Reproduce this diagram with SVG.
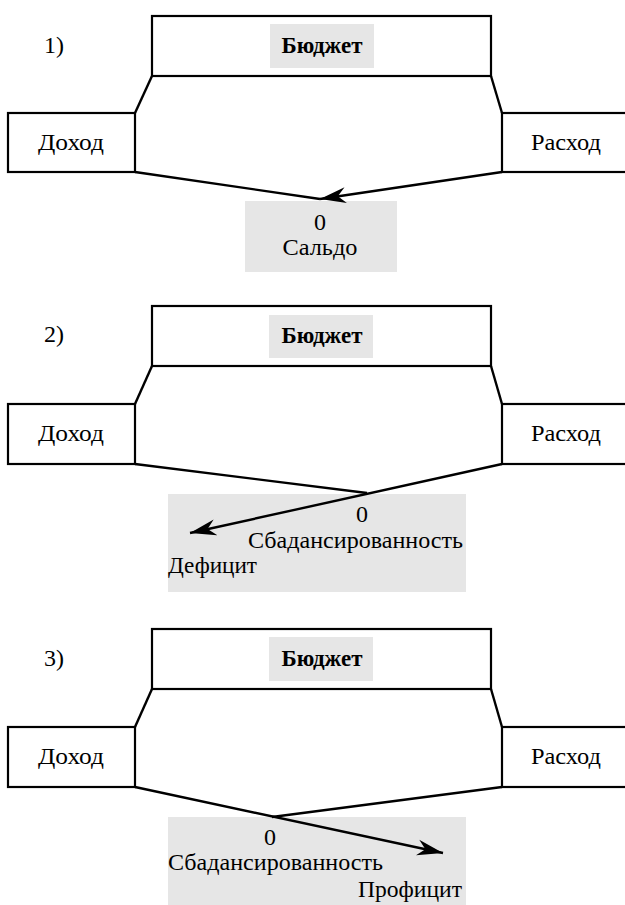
<svg xmlns="http://www.w3.org/2000/svg" width="625" height="905" viewBox="0 0 625 905">
<style>
.box{fill:#fff;stroke:#000;stroke-width:2.2}
.lbl{fill:#e6e6e6;stroke:none}
.ln{fill:none;stroke:#000;stroke-width:2.4}
.t{font-family:"Liberation Serif","Times New Roman","DejaVu Serif",serif;font-size:24px;fill:#000}
.b{font-weight:bold;font-size:23px}
.m{text-anchor:middle}
</style>
<defs>
<marker id="ah" markerUnits="userSpaceOnUse" markerWidth="30" markerHeight="20" refX="26" refY="10" orient="auto" viewBox="0 0 30 20">
<path d="M0,2 L26,10 L0,18 L8,10 z" fill="#000"/>
</marker>
</defs>
<rect width="625" height="905" fill="#fff"/>

<!-- Panel 1 -->
<g id="p1">
<text class="t" x="44" y="53">1)</text>
<g id="budget1"><rect class="box" x="152" y="16" width="339" height="60"/><rect class="lbl" x="270" y="24" width="104" height="44"/><text class="t b m" x="322" y="53" textLength="81" lengthAdjust="spacingAndGlyphs">Бюджет</text></g>
<g id="income1"><rect class="box" x="8" y="113" width="127" height="59"/><text class="t m" x="71" y="150" textLength="66" lengthAdjust="spacingAndGlyphs">Доход</text></g>
<g id="expense1"><rect class="box" x="502" y="113" width="130" height="59"/><text class="t m" x="566" y="150" textLength="70" lengthAdjust="spacingAndGlyphs">Расход</text></g>
<g id="balance1"><rect class="lbl" x="245" y="201" width="152" height="71"/><text class="t m" x="320" y="230">0</text><text class="t m" x="320" y="255" textLength="75" lengthAdjust="spacingAndGlyphs">Сальдо</text></g>
<g id="conn1">
<line class="ln" x1="152" y1="76" x2="135" y2="113"/>
<line class="ln" x1="491" y1="76" x2="502" y2="113"/>
<line class="ln" x1="135" y1="172" x2="320" y2="199"/>
<line class="ln" x1="502" y1="172" x2="320" y2="199" marker-end="url(#ah)"/>
</g>
</g>

<!-- Panel 2 -->
<g id="p2">
<text class="t" x="44" y="342">2)</text>
<g id="budget2"><rect class="box" x="152" y="306" width="339" height="60"/><rect class="lbl" x="269" y="315" width="104" height="43"/><text class="t b m" x="322" y="343" textLength="81" lengthAdjust="spacingAndGlyphs">Бюджет</text></g>
<g id="income2"><rect class="box" x="8" y="404" width="127" height="60"/><text class="t m" x="71" y="441" textLength="66" lengthAdjust="spacingAndGlyphs">Доход</text></g>
<g id="expense2"><rect class="box" x="502" y="404" width="130" height="60"/><text class="t m" x="566" y="441" textLength="70" lengthAdjust="spacingAndGlyphs">Расход</text></g>
<g id="balance2"><rect class="lbl" x="168" y="494" width="298" height="98"/><text class="t m" x="362" y="522">0</text><text class="t" x="248" y="548" textLength="215" lengthAdjust="spacingAndGlyphs">Сбадансированность</text><text class="t" x="168" y="573" textLength="89" lengthAdjust="spacingAndGlyphs">Дефицит</text></g>
<g id="conn2">
<line class="ln" x1="152" y1="366" x2="135" y2="404"/>
<line class="ln" x1="491" y1="366" x2="502" y2="404"/>
<line class="ln" x1="135" y1="464" x2="367" y2="493"/>
<line class="ln" x1="502" y1="464" x2="190" y2="533" marker-end="url(#ah)"/>
</g>
</g>

<!-- Panel 3 -->
<g id="p3">
<text class="t" x="44" y="666">3)</text>
<g id="budget3"><rect class="box" x="152" y="629" width="339" height="60"/><rect class="lbl" x="269" y="637" width="104" height="44"/><text class="t b m" x="322" y="666" textLength="81" lengthAdjust="spacingAndGlyphs">Бюджет</text></g>
<g id="income3"><rect class="box" x="8" y="727" width="127" height="60"/><text class="t m" x="71" y="764" textLength="66" lengthAdjust="spacingAndGlyphs">Доход</text></g>
<g id="expense3"><rect class="box" x="502" y="727" width="130" height="60"/><text class="t m" x="566" y="764" textLength="70" lengthAdjust="spacingAndGlyphs">Расход</text></g>
<g id="balance3"><rect class="lbl" x="168" y="817" width="298" height="88"/><text class="t m" x="270" y="845">0</text><text class="t" x="168" y="870" textLength="215" lengthAdjust="spacingAndGlyphs">Сбадансированность</text><text class="t" x="358" y="897" textLength="104" lengthAdjust="spacingAndGlyphs">Профицит</text></g>
<g id="conn3">
<line class="ln" x1="152" y1="689" x2="135" y2="727"/>
<line class="ln" x1="491" y1="689" x2="502" y2="727"/>
<line class="ln" x1="502" y1="787" x2="272" y2="817"/>
<line class="ln" x1="135" y1="787" x2="443" y2="853" marker-end="url(#ah)"/>
</g>
</g>
</svg>
